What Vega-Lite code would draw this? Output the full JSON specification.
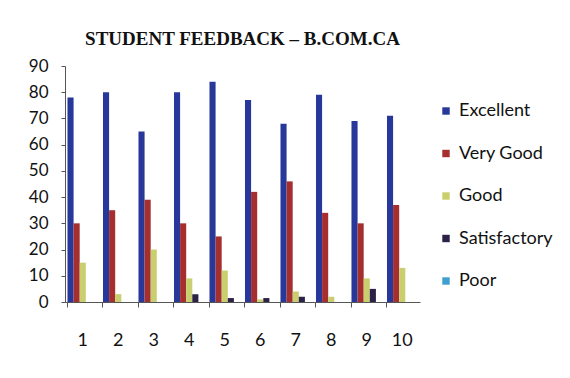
{
  "$schema": "https://vega.github.io/schema/vega-lite/v6.json",
  "autosize": "none",
  "width": 355,
  "height": 236,
  "padding": {"left": 65, "top": 66, "right": 150, "bottom": 76},
  "background": "white",
  "title": {
    "text": "STUDENT FEEDBACK – B.COM.CA",
    "font": "Liberation Serif",
    "fontSize": 19,
    "fontWeight": "bold",
    "color": "#111111",
    "anchor": "middle",
    "frame": "group",
    "offset": 8
  },
  "data": {
    "values": [
      {"group": "1", "rating": "Excellent", "value": 78},
      {"group": "1", "rating": "Very Good", "value": 30},
      {"group": "1", "rating": "Good", "value": 15},
      {"group": "1", "rating": "Satisfactory", "value": 0},
      {"group": "1", "rating": "Poor", "value": 0},
      {"group": "2", "rating": "Excellent", "value": 80},
      {"group": "2", "rating": "Very Good", "value": 35},
      {"group": "2", "rating": "Good", "value": 3},
      {"group": "2", "rating": "Satisfactory", "value": 0},
      {"group": "2", "rating": "Poor", "value": 0},
      {"group": "3", "rating": "Excellent", "value": 65},
      {"group": "3", "rating": "Very Good", "value": 39},
      {"group": "3", "rating": "Good", "value": 20},
      {"group": "3", "rating": "Satisfactory", "value": 0},
      {"group": "3", "rating": "Poor", "value": 0},
      {"group": "4", "rating": "Excellent", "value": 80},
      {"group": "4", "rating": "Very Good", "value": 30},
      {"group": "4", "rating": "Good", "value": 9},
      {"group": "4", "rating": "Satisfactory", "value": 3},
      {"group": "4", "rating": "Poor", "value": 0},
      {"group": "5", "rating": "Excellent", "value": 84},
      {"group": "5", "rating": "Very Good", "value": 25},
      {"group": "5", "rating": "Good", "value": 12},
      {"group": "5", "rating": "Satisfactory", "value": 1.5},
      {"group": "5", "rating": "Poor", "value": 0},
      {"group": "6", "rating": "Excellent", "value": 77},
      {"group": "6", "rating": "Very Good", "value": 42},
      {"group": "6", "rating": "Good", "value": 1},
      {"group": "6", "rating": "Satisfactory", "value": 1.5},
      {"group": "6", "rating": "Poor", "value": 0},
      {"group": "7", "rating": "Excellent", "value": 68},
      {"group": "7", "rating": "Very Good", "value": 46},
      {"group": "7", "rating": "Good", "value": 4},
      {"group": "7", "rating": "Satisfactory", "value": 2},
      {"group": "7", "rating": "Poor", "value": 0},
      {"group": "8", "rating": "Excellent", "value": 79},
      {"group": "8", "rating": "Very Good", "value": 34},
      {"group": "8", "rating": "Good", "value": 2},
      {"group": "8", "rating": "Satisfactory", "value": 0},
      {"group": "8", "rating": "Poor", "value": 0},
      {"group": "9", "rating": "Excellent", "value": 69},
      {"group": "9", "rating": "Very Good", "value": 30},
      {"group": "9", "rating": "Good", "value": 9},
      {"group": "9", "rating": "Satisfactory", "value": 5},
      {"group": "9", "rating": "Poor", "value": 0},
      {"group": "10", "rating": "Excellent", "value": 71},
      {"group": "10", "rating": "Very Good", "value": 37},
      {"group": "10", "rating": "Good", "value": 13},
      {"group": "10", "rating": "Satisfactory", "value": 0},
      {"group": "10", "rating": "Poor", "value": 0}
    ]
  },
  "mark": {"type": "bar"},
  "encoding": {
    "x": {
      "field": "group",
      "type": "ordinal",
      "sort": null,
      "scale": {"paddingInner": 0.14, "paddingOuter": 0.07},
      "axis": {
        "title": null,
        "labelAngle": 0,
        "labelFont": "Lato",
        "labelFontSize": 18,
        "labelColor": "#111111",
        "labelPadding": 24,
        "bandPosition": 0,
        "tickSize": 5,
        "tickColor": "#555555",
        "domainColor": "#555555"
      }
    },
    "xOffset": {
      "field": "rating",
      "type": "nominal",
      "sort": ["Excellent", "Very Good", "Good", "Satisfactory", "Poor"]
    },
    "y": {
      "field": "value",
      "type": "quantitative",
      "scale": {"domain": [0, 90]},
      "axis": {
        "title": null,
        "values": [0, 10, 20, 30, 40, 50, 60, 70, 80, 90],
        "grid": false,
        "labelFont": "Lato",
        "labelFontSize": 17,
        "labelColor": "#111111",
        "labelPadding": 13,
        "tickSize": 4,
        "tickColor": "#555555",
        "domainColor": "#555555"
      }
    },
    "color": {
      "field": "rating",
      "type": "nominal",
      "sort": ["Excellent", "Very Good", "Good", "Satisfactory", "Poor"],
      "scale": {
        "domain": ["Excellent", "Very Good", "Good", "Satisfactory", "Poor"],
        "range": ["#28389a", "#a52f2f", "#c9cf6e", "#2c2146", "#3f9fd0"]
      },
      "legend": {
        "title": null,
        "orient": "none",
        "legendX": 372,
        "legendY": 36,
        "symbolType": "square",
        "symbolSize": 55,
        "symbolStrokeWidth": 0,
        "labelFont": "Lato",
        "labelFontSize": 18,
        "labelColor": "#111111",
        "rowPadding": 24.5,
        "labelOffset": 4
      }
    }
  },
  "config": {"view": {"stroke": null}}
}
